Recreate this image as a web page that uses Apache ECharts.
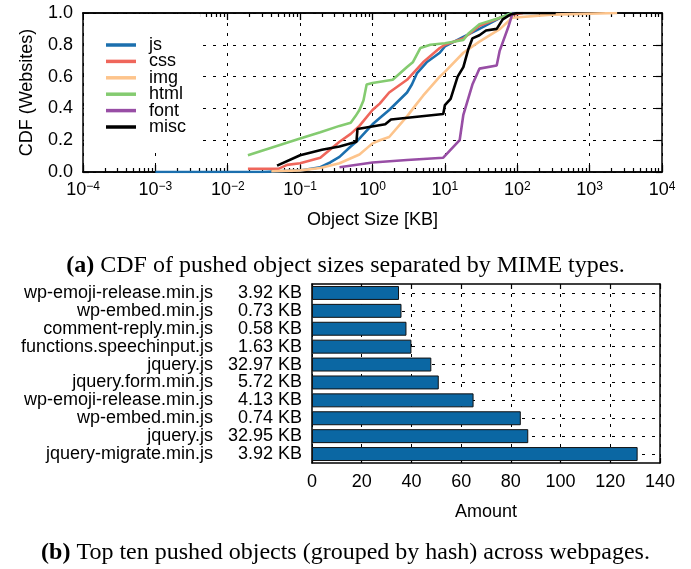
<!DOCTYPE html>
<html>
<head>
<meta charset="utf-8">
<script src="https://cdn.jsdelivr.net/npm/echarts@6/dist/echarts.min.js"></script>
<style>
  html, body { margin: 0; padding: 0; background: #fff; }
  #chart { width: 691px; height: 569px; }
</style>
</head>
<body>
<div id="chart"></div>
<script>
// (a) CDF of object sizes per MIME type, sizes in KB
const jsSize = [0.001, 0.03, 0.1, 0.19, 0.26, 0.35, 0.5, 0.63, 1.0, 1.26, 1.7, 3.0, 3.5, 4.1, 5.6, 8.5, 10, 18, 30, 58, 85, 100];
const jsCdf = [0, 0, 0.01, 0.03, 0.06, 0.095, 0.16, 0.2, 0.3, 0.34, 0.39, 0.5, 0.55, 0.62, 0.69, 0.75, 0.79, 0.85, 0.9, 0.97, 1.0, 1.0];

const cssSize = [0.019, 0.05, 0.066, 0.1, 0.19, 0.35, 0.5, 0.66, 1.0, 1.26, 1.7, 3.0, 5.0, 8.5, 10, 18, 30, 58, 85, 120];
const cssCdf = [0.02, 0.02, 0.045, 0.055, 0.09, 0.19, 0.24, 0.29, 0.39, 0.43, 0.5, 0.58, 0.69, 0.78, 0.8, 0.84, 0.92, 0.97, 0.99, 1.0];

const imgSize = [0.04, 0.1, 0.19, 0.35, 0.66, 1.0, 1.26, 1.7, 3.0, 4.1, 5.0, 8.5, 10, 18, 30, 58, 85, 300, 2400];
const imgCdf = [0.005, 0.01, 0.025, 0.055, 0.11, 0.18, 0.2, 0.22, 0.35, 0.43, 0.48, 0.6, 0.63, 0.75, 0.82, 0.9, 0.97, 0.99, 1.0];

const htmlSize = [0.019, 0.1, 0.19, 0.35, 0.5, 0.58, 0.66, 0.75, 0.83, 1.0, 1.9, 3.0, 3.6, 4.6, 6.3, 10, 18, 21, 30, 58, 85];
const htmlCdf = [0.105, 0.21, 0.25, 0.29, 0.31, 0.35, 0.39, 0.45, 0.55, 0.56, 0.58, 0.66, 0.69, 0.78, 0.8, 0.81, 0.83, 0.87, 0.93, 0.97, 1.0];

const fontSize = [0.35, 1.0, 3.0, 9.5, 16, 18, 24, 30, 52, 57, 75, 85, 90];
const fontCdf = [0.03, 0.06, 0.075, 0.09, 0.2, 0.36, 0.55, 0.65, 0.67, 0.76, 0.91, 0.99, 1.0];

const miscSize = [0.048, 0.1, 0.2, 0.35, 0.6, 0.62, 1.5, 1.8, 9.5, 10, 12, 15, 18, 21, 24, 30, 37, 52, 63, 80, 100, 340];
const miscCdf = [0.04, 0.105, 0.14, 0.16, 0.19, 0.27, 0.3, 0.33, 0.365, 0.42, 0.46, 0.6, 0.66, 0.77, 0.84, 0.86, 0.89, 0.9, 0.96, 0.99, 1.0, 1.0];

const mimeTypes = ["js", "css", "img", "html", "font", "misc"];
const mimeColors = ["#1b6fae", "#ef665b", "#fdc48c", "#84cb70", "#984ea5", "#000000"];

// (b) top ten pushed objects, top to bottom
const objNames = [
  "wp-emoji-release.min.js", "wp-embed.min.js", "comment-reply.min.js",
  "functions.speechinput.js", "jquery.js", "jquery.form.min.js",
  "wp-emoji-release.min.js", "wp-embed.min.js", "jquery.js", "jquery-migrate.min.js",
];
const objSizes = ["3.92 KB", "0.73 KB", "0.58 KB", "1.63 KB", "32.97 KB", "5.72 KB", "4.13 KB", "0.74 KB", "32.95 KB", "3.92 KB"];
const objAmount = [35, 36, 38, 40, 48, 51, 65, 84, 87, 131];

const FONT = "Liberation Sans";
const dotted = { type: [3, 7], color: "#000", width: 1 };
const frame = () => ({ show: true, onZero: false, lineStyle: { color: "#000", width: 1.5 } });

const zip = (xs, ys) => xs.map((x, i) => [x, ys[i]]);
const cdfData = [
  zip(jsSize, jsCdf), zip(cssSize, cssCdf), zip(imgSize, imgCdf),
  zip(htmlSize, htmlCdf), zip(fontSize, fontCdf), zip(miscSize, miscCdf),
];

// minor tick positions (2..9 of each decade), in log10 units
const minorTicks = [];
for (let e = -4; e < 4; e++) {
  for (let m = 2; m <= 9; m++) minorTicks.push(e + Math.log10(m));
}

const supLabel = (v) => {
  const e = Math.round(Math.log10(v));
  return "{b|10}{s|" + (e < 0 ? "\u2212" + -e : e) + "}";
};

const majorTick = () => ({ show: true, inside: true, length: 7, lineStyle: { color: "#000", width: 1.3 } });

const minorAxis = (position) => ({
  type: "value",
  gridIndex: 0,
  position,
  min: -4,
  max: 4,
  axisLine: frame(),
  axisTick: { show: true, inside: true, length: 4, customValues: minorTicks.slice(), lineStyle: { color: "#000", width: 1.2 } },
  axisLabel: { show: false },
  splitLine: { show: false },
});

const chart = echarts.init(document.getElementById("chart"));

const captionStyle = () => ({
  fontFamily: "Liberation Serif",
  fontSize: 24,
  fontWeight: "normal",
  color: "#000",
  rich: { b: { fontFamily: "Liberation Serif", fontSize: 24, fontWeight: "bold", color: "#000" } },
});

const option = {
  backgroundColor: "#fff",
  animation: false,
  textStyle: { fontFamily: FONT, color: "#000" },
  title: [
    {
      text: "{b|(a)} CDF of pushed object sizes separated by MIME types.",
      left: "center",
      top: 254,
      padding: 0,
      textStyle: captionStyle(),
    },
    {
      text: "{b|(b)} Top ten pushed objects (grouped by hash) across webpages.",
      left: "center",
      top: 541,
      padding: 0,
      textStyle: captionStyle(),
    },
  ],
  legend: {
    data: mimeTypes,
    orient: "vertical",
    left: 84,
    top: 14,
    padding: [22, 14, 12, 22],
    backgroundColor: "#fff",
    icon: "rect",
    itemWidth: 30,
    itemHeight: 3.5,
    itemGap: -1.6,
    textStyle: { fontFamily: FONT, fontSize: 18, lineHeight: 16.4, color: "#000", padding: [0, 0, 0, 8] },
  },
  grid: [
    { left: 83, top: 13, width: 579, height: 159, show: false },
    { left: 312, top: 284, width: 348, height: 179, show: false },
  ],
  xAxis: [
    {
      type: "log",
      logBase: 10,
      gridIndex: 0,
      position: "bottom",
      min: 1e-4,
      max: 1e4,
      interval: 1,
      axisLine: frame(),
      axisTick: majorTick(),
      axisLabel: {
        margin: 9,
        formatter: supLabel,
        rich: {
          b: { fontFamily: FONT, fontSize: 18, color: "#000" },
          s: { fontFamily: FONT, fontSize: 12, color: "#000", verticalAlign: "top" },
        },
      },
      splitLine: { show: true, lineStyle: dotted },
      name: "Object Size [KB]",
      nameLocation: "middle",
      nameGap: 39,
      nameTextStyle: { fontFamily: FONT, fontSize: 18, color: "#000" },
    },
    minorAxis("top"),
    {
      type: "log",
      logBase: 10,
      gridIndex: 0,
      position: "top",
      min: 1e-4,
      max: 1e4,
      interval: 1,
      axisLine: frame(),
      axisTick: majorTick(),
      axisLabel: { show: false },
      splitLine: { show: false },
    },
    minorAxis("bottom"),
    {
      type: "value",
      gridIndex: 1,
      position: "bottom",
      min: 0,
      max: 140,
      interval: 20,
      axisLine: frame(),
      axisTick: { show: true, inside: true, length: 5, lineStyle: { color: "#000", width: 1.2 } },
      axisLabel: { margin: 10, fontFamily: FONT, fontSize: 18, color: "#000" },
      splitLine: { show: true, lineStyle: dotted },
      name: "Amount",
      nameLocation: "middle",
      nameGap: 40,
      nameTextStyle: { fontFamily: FONT, fontSize: 18, color: "#000" },
    },
    {
      type: "value",
      gridIndex: 1,
      position: "top",
      min: 0,
      max: 140,
      interval: 20,
      axisLine: frame(),
      axisTick: { show: true, inside: true, length: 5, lineStyle: { color: "#000", width: 1.2 } },
      axisLabel: { show: false },
      splitLine: { show: false },
    },
  ],
  yAxis: [
    {
      type: "value",
      gridIndex: 0,
      position: "left",
      min: 0,
      max: 1,
      interval: 0.2,
      axisLine: frame(),
      axisTick: { show: true, inside: true, length: 6, lineStyle: { color: "#000", width: 1.2 } },
      axisLabel: { margin: 10, fontFamily: FONT, fontSize: 18, color: "#000", formatter: (v) => v.toFixed(1) },
      splitLine: { show: true, lineStyle: dotted },
      name: "CDF (Websites)",
      nameLocation: "middle",
      nameGap: 47,
      nameTextStyle: { fontFamily: FONT, fontSize: 18, color: "#000" },
    },
    {
      type: "value",
      gridIndex: 0,
      position: "right",
      min: 0,
      max: 1,
      interval: 0.2,
      axisLine: frame(),
      axisTick: { show: true, inside: true, length: 6, lineStyle: { color: "#000", width: 1.2 } },
      axisLabel: { show: false },
      splitLine: { show: false },
    },
    {
      type: "category",
      gridIndex: 1,
      position: "left",
      inverse: true,
      data: objSizes,
      axisLine: frame(),
      axisTick: { show: false },
      axisLabel: { interval: 0, margin: 10, fontFamily: FONT, fontSize: 18, color: "#000" },
      splitLine: { show: true, interval: 0, alignWithLabel: true, lineStyle: dotted },
    },
    {
      type: "category",
      gridIndex: 1,
      position: "left",
      offset: 91,
      inverse: true,
      data: objNames,
      axisLine: { show: false },
      axisTick: { show: false },
      axisLabel: { interval: 0, margin: 8, fontFamily: FONT, fontSize: 18, color: "#000" },
      splitLine: { show: false },
    },
    {
      type: "category",
      gridIndex: 1,
      position: "right",
      inverse: true,
      data: objSizes,
      axisLine: frame(),
      axisTick: { show: false },
      axisLabel: { show: false },
      splitLine: { show: false },
    },
  ],
  series: [
    ...mimeTypes.map((name, i) => ({
      name,
      type: "line",
      xAxisIndex: 0,
      yAxisIndex: 0,
      data: cdfData[i],
      showSymbol: false,
      symbol: "none",
      color: mimeColors[i],
      lineStyle: { width: 2.6, color: mimeColors[i] },
      z: 3,
    })),
    {
      name: "Amount",
      type: "bar",
      xAxisIndex: 4,
      yAxisIndex: 2,
      data: objAmount,
      barCategoryGap: "22%",
      itemStyle: { color: "#0b67a3", borderColor: "#111", borderWidth: 1 },
      z: 3,
    },
  ],
};

chart.setOption(option);
</script>
</body>
</html>
